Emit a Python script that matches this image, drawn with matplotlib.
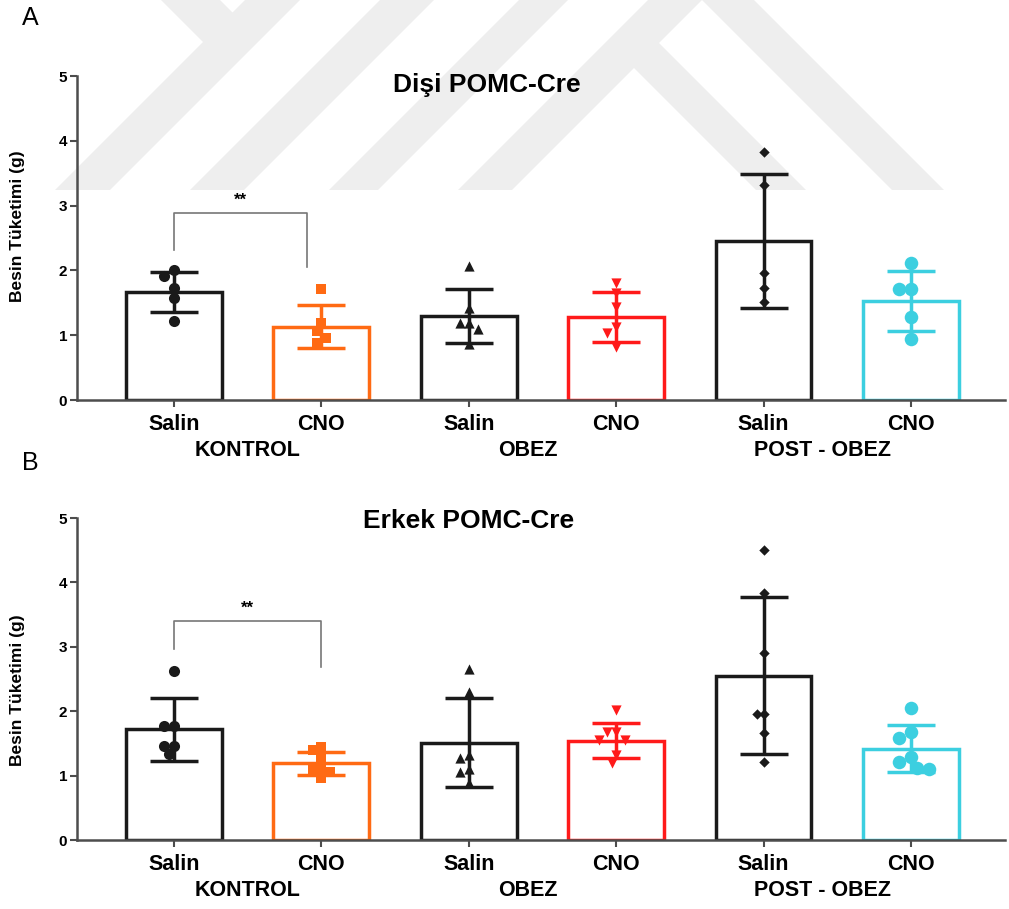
import matplotlib
matplotlib.use('Agg')
import matplotlib.pyplot as plt
from matplotlib.patches import Polygon
import numpy as np

plt.rcParams['font.family'] = ['Liberation Sans', 'DejaVu Sans']

# kategoriler
gruplar = ['Salin', 'CNO', 'Salin', 'CNO', 'Salin', 'CNO']
ana_gruplar = ['KONTROL', 'OBEZ', 'POST - OBEZ']
renkler = ['#1a1a1a', '#ff6a13', '#1a1a1a', '#ff1a1a', '#1a1a1a', '#3ccfe0']
isaretler = ['o', 's', '^', 'v', 'D', 'o']
boyutlar = [64, 52, 54, 54, 28, 95]

# A - Dişi POMC-Cre
disi_ort = [1.67, 1.13, 1.30, 1.28, 2.45, 1.53]
disi_sd = [0.31, 0.33, 0.42, 0.38, 1.03, 0.46]
disi_noktalar = [
    [2.00, 1.92, 1.73, 1.57, 1.22],
    [1.71, 1.19, 1.07, 0.96, 0.88],
    [2.07, 1.42, 1.19, 1.19, 1.09, 0.87],
    [1.80, 1.65, 1.44, 1.13, 1.03, 0.82],
    [3.83, 3.32, 1.96, 1.73, 1.52],
    [2.12, 1.71, 1.71, 1.28, 0.94],
]
disi_braket = [2.89, 2.31, 2.05]   # ust cizgi, sol uc, sag uc
disi_braket_sag = 0.9

# B - Erkek POMC-Cre
erkek_ort = [1.72, 1.19, 1.51, 1.54, 2.55, 1.42]
erkek_sd = [0.49, 0.18, 0.69, 0.27, 1.22, 0.36]
erkek_noktalar = [
    [2.63, 1.77, 1.77, 1.46, 1.46, 1.33],
    [1.45, 1.40, 1.27, 1.12, 1.10, 1.05, 0.97],
    [2.66, 2.30, 1.32, 1.27, 1.10, 1.06, 0.88],
    [2.02, 1.67, 1.67, 1.56, 1.56, 1.32, 1.19],
    [4.51, 3.83, 2.90, 1.95, 1.95, 1.66, 1.21],
    [2.05, 1.67, 1.58, 1.29, 1.21, 1.12, 1.10],
]
erkek_braket = [3.40, 2.96, 2.68]
erkek_braket_sag = 1.0

W, H = 1009, 909
PX_X, PX_Y = 147.4, 64.6   # piksel / birim


def beeswarm(vals, cap):
    """ust uste binen noktalari yana kaydir"""
    konum = []
    adim = cap / 2.0
    for v in vals:
        aday = [0]
        for k in range(1, 8):
            aday += [-k * adim, k * adim]
        for dx in aday:
            ok = True
            for (px, py) in konum:
                if np.hypot(dx - px, (v - py) * PX_Y) < cap:
                    ok = False
                    break
            if ok:
                konum.append((dx, v))
                break
    return [p[0] / PX_X for p in konum]


def filigran(fig):
    # arka plandaki silik logo
    bantlar = [
        [(245, 0), (300, 0), (110, 190), (55, 190)],
        [(161, 0), (220, 0), (260, 40), (203, 42)],
        [(380, 0), (434, 0), (244, 190), (190, 190)],
        [(519, 0), (568, 0), (378, 190), (329, 190)],
        [(648, 0), (702, 0), (512, 190), (458, 190)],
        [(633, 67), (658, 42), (806, 190), (756, 190)],
        [(702, 0), (754, 0), (944, 190), (892, 190)],
    ]
    for b in bantlar:
        pts = [(x / W, 1 - y / H) for x, y in b]
        fig.add_artist(Polygon(pts, closed=True, transform=fig.transFigure,
                               facecolor='#eeeeee', edgecolor='none', zorder=-5))


def panel(ax, ort, sd, noktalar, braket, sag, baslik, bx, by):
    x = np.arange(len(gruplar))
    ax.set_facecolor('none')
    ax.bar(x, ort, width=0.65, fill=False, edgecolor=renkler, linewidth=2.5, zorder=2)
    for i in range(len(x)):
        ax.errorbar(x[i], ort[i], yerr=sd[i], fmt='none', ecolor=renkler[i],
                    elinewidth=2.5, capsize=17, capthick=2.5, zorder=3)
        cap = np.sqrt(boyutlar[i]) * 1.2
        ofs = beeswarm(noktalar[i], cap)
        ax.scatter(x[i] + np.array(ofs), noktalar[i], marker=isaretler[i],
                   s=boyutlar[i], color=renkler[i], linewidths=0, zorder=4)

    # anlamlilik braketi
    ax.plot([0, 0, sag, sag], [braket[1], braket[0], braket[0], braket[2]],
            color='#777777', lw=1.2, zorder=2)
    ax.text(sag / 2, braket[0] + 0.2, '**', ha='center', va='center',
            fontsize=12, fontweight='bold')

    ax.text(bx, by, baslik, ha='center', va='center', fontsize=19, fontweight='bold')

    ax.set_xlim(-0.658, 5.638)
    ax.set_ylim(0, 5)
    ax.set_yticks(range(6))
    ax.set_yticklabels([str(v) for v in range(6)], fontsize=11, fontweight='bold')
    ax.set_xticks(x)
    ax.set_xticklabels(gruplar, fontsize=15.5, fontweight='bold')
    ax.tick_params(axis='y', length=5, width=1.5, color='#4d4d4d', pad=2)
    ax.tick_params(axis='x', length=5, width=1.5, color='#4d4d4d', pad=5)
    for s in ['top', 'right']:
        ax.spines[s].set_visible(False)
    for s in ['left', 'bottom']:
        ax.spines[s].set_color('#4d4d4d')
        ax.spines[s].set_linewidth(1.8)

    for j, ad in enumerate(ana_gruplar):
        gx = 2 * j + 0.5 - 0.1 * (j > 0)
        ax.annotate(ad, xy=(gx, 0), xycoords=('data', 'axes fraction'),
                    xytext=(0, -36.5), textcoords='offset points',
                    ha='center', va='center', fontsize=15.5, fontweight='bold')


fig = plt.figure(figsize=(W / 100, H / 100), dpi=100)
filigran(fig)

axA = fig.add_axes([77 / W, 1 - 400 / H, 928 / W, 324 / H])
axB = fig.add_axes([77 / W, 1 - 840 / H, 928 / W, 322 / H])

panel(axA, disi_ort, disi_sd, disi_noktalar, disi_braket, disi_braket_sag,
      'Dişi POMC-Cre', 2.12, 4.86)
panel(axB, erkek_ort, erkek_sd, erkek_noktalar, erkek_braket, erkek_braket_sag,
      'Erkek POMC-Cre', 2.0, 4.95)

fig.text(30 / W, 1 - 18 / H, 'A', fontsize=18, ha='center', va='center')
fig.text(30 / W, 1 - 463 / H, 'B', fontsize=18, ha='center', va='center')
fig.text(18 / W, 1 - 226 / H, 'Besin Tüketimi (g)', rotation=90, fontsize=12.5,
         fontweight='bold', ha='center', va='center')
fig.text(18 / W, 1 - 690 / H, 'Besin Tüketimi (g)', rotation=90, fontsize=12.5,
         fontweight='bold', ha='center', va='center')

fig.savefig('out.png', dpi=100)
